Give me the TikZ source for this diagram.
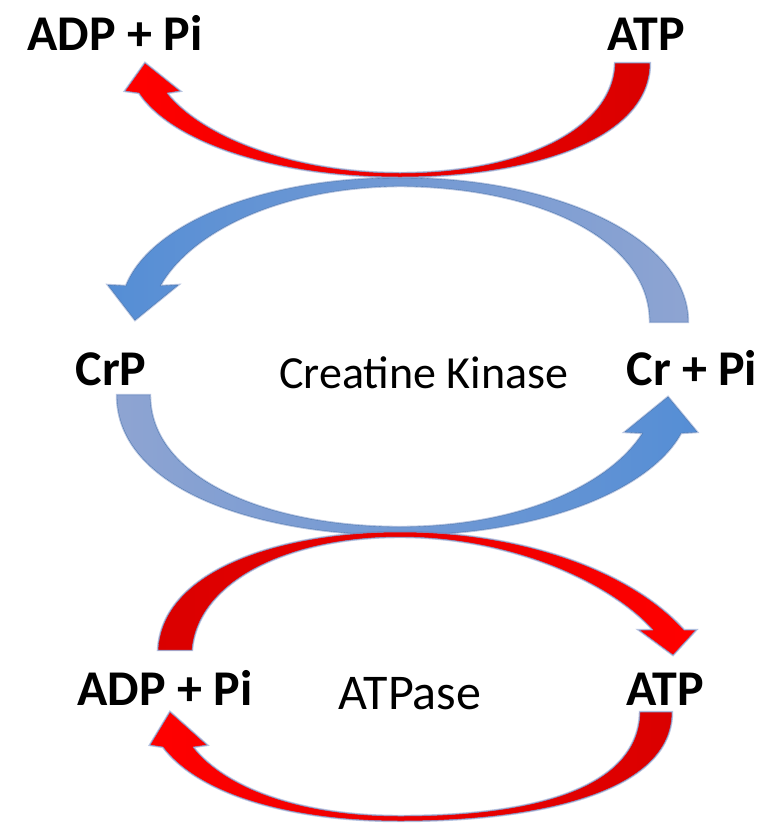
\documentclass[tikz,border=0pt]{standalone}
\usepackage{fontspec}
\setmainfont{Carlito}
\definecolor{redTail}{RGB}{218,0,0}
\definecolor{redHead}{RGB}{255,0,0}
\definecolor{blueHead}{RGB}{85,142,213}
\definecolor{blueTail}{RGB}{142,164,210}
\definecolor{shadowc}{RGB}{95,125,190}
\tikzset{
  lbl/.style={font=\fontsize{50}{60}\selectfont\bfseries, anchor=base, inner sep=0pt},
  enz/.style={font=\fontsize{46}{55}\selectfont, anchor=base, inner sep=0pt},
  enzbig/.style={font=\fontsize{50}{60}\selectfont, anchor=base, inner sep=0pt},
  arrowshape/.style={line join=round, preaction={draw=shadowc, line width=2.4pt, opacity=0.45}},
  redarrow/.style={arrowshape, draw=shadowc!80, line width=0.5pt},
  bluearrow/.style={arrowshape, draw=blueHead!80!black, line width=0.3pt}
}
\begin{document}
\begin{tikzpicture}[x=1pt,y=-1pt]
\useasboundingbox (0,0) rectangle (781,828);
\fill[white] (0,0) rectangle (781,828);

% labels
\node[lbl] (adp1) at (115,50) {ADP + Pi};
\node[lbl] (atp1) at (646,50) {ATP};
\node[lbl] (crp) at (111,385) {CrP};
\node[enz] (ck) at (424,388) {Creatine Kinase};
\node[lbl] (cr) at (692,385) {Cr + Pi};
\node[lbl] (adp2) at (165,705) {ADP + Pi};
\node[enzbig] (atpase) at (410,709) {ATPase};
\node[lbl] (atp2) at (665,705) {ATP};

% upper blue arrow: Cr + Pi -> CrP
\path[bluearrow, left color=blueHead, right color=blueTail]
  (688,322) .. controls (688,240) and (560,178) .. (400,178)
  .. controls (260,178) and (150,225) .. (126,286)
  -- (108,285) -- (135,320) -- (178,285) -- (160,286)
  .. controls (190,232) and (280,187) .. (400,186)
  .. controls (540,187) and (650,240) .. (650,322) -- cycle;

% lower blue arrow: CrP -> Cr + Pi
\path[bluearrow, left color=blueTail, right color=blueHead]
  (117,395) .. controls (117,490) and (260,535) .. (400,535)
  .. controls (540,535) and (650,490) .. (681,433)
  -- (697,432) -- (668,397) -- (625,432) -- (643,433)
  .. controls (610,485) and (520,527) .. (400,527)
  .. controls (270,527) and (150,480) .. (150,395) -- cycle;

% top red arrow: ATP -> ADP + Pi
\path[redarrow, left color=redHead, right color=redTail]
  (650,63) .. controls (650,140) and (530,177) .. (400,177)
  .. controls (270,177) and (170,140) .. (139,93)
  -- (125,91) -- (145,63) -- (180,91) -- (167,93)
  .. controls (200,135) and (290,173) .. (400,173)
  .. controls (520,173) and (613,130) .. (615,63) -- cycle;

% lower red upper arc: ADP + Pi -> ATP
\path[redarrow, left color=redTail, right color=redHead]
  (158,650) .. controls (162,570) and (280,532) .. (400,532)
  .. controls (520,532) and (630,570) .. (684,630)
  -- (696,630) -- (673,655) -- (639,630) -- (653,630)
  .. controls (610,582) and (510,537) .. (400,537)
  .. controls (290,537) and (198,580) .. (192,650) -- cycle;

% bottom red arc: ATP -> ADP + Pi
\path[redarrow, left color=redHead, right color=redTail]
  (672,712) .. controls (672,792) and (540,821) .. (400,821)
  .. controls (280,821) and (195,790) .. (163,747)
  -- (150,745) -- (170,712) -- (207,745) -- (193,747)
  .. controls (225,788) and (300,816) .. (400,816)
  .. controls (530,816) and (638,790) .. (640,712) -- cycle;
\end{tikzpicture}
\end{document}
